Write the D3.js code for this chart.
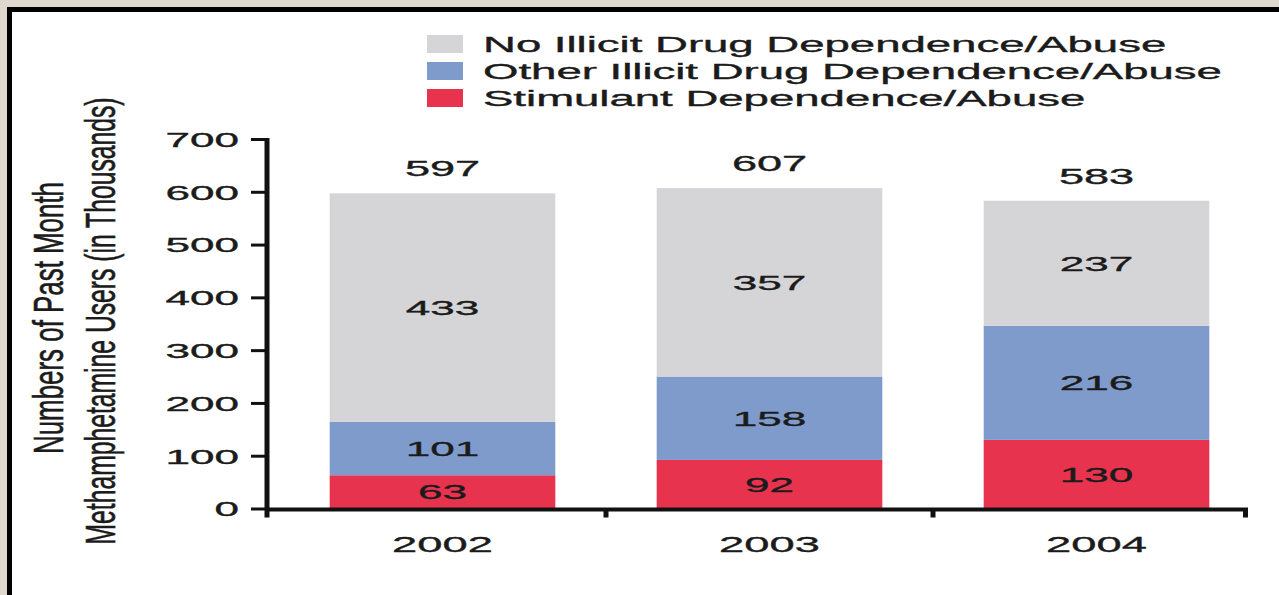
<!DOCTYPE html>
<html>
<head>
<meta charset="utf-8">
<script src="https://cdn.jsdelivr.net/npm/d3@7"></script>
<style>
  html, body { margin: 0; padding: 0; background: #e0d8ce; }
  svg { display: block; }
  text { font-family: "Liberation Sans", Arial, Helvetica, sans-serif; fill: #1b1b1b; stroke: #1b1b1b; stroke-width: 0.35px; }
</style>
</head>
<body>
<svg id="chart" width="1279" height="595"></svg>
<script>
// ---- data ----
const years = ["2002", "2003", "2004"];
const stimulant = [63, 92, 130];
const otherIllicit = [101, 158, 216];
const noIllicit = [433, 357, 237];
const totals = [597, 607, 583];
const seriesNames = [
  "No Illicit Drug Dependence/Abuse",
  "Other Illicit Drug Dependence/Abuse",
  "Stimulant Dependence/Abuse"
];
const yTicks = [0, 100, 200, 300, 400, 500, 600, 700];
const yTitleLines = ["Numbers of Past Month", "Methamphetamine Users (in Thousands)"];

// ---- layout ----
const W = 1279, H = 595;
const svg = d3.select("#chart");

// frame
svg.append("rect").attr("x", 0).attr("y", 0).attr("width", W).attr("height", H).attr("fill", "#e0d8ce");
svg.append("rect").attr("x", 7).attr("y", 7).attr("width", W).attr("height", H).attr("fill", "#000");
svg.append("rect").attr("x", 12).attr("y", 12).attr("width", W).attr("height", H).attr("fill", "#fff");

const rows = years.map((yr, i) => ({
  year: yr, stim: stimulant[i], other: otherIllicit[i], none: noIllicit[i], total: totals[i]
}));
const keys = ["stim", "other", "none"];
const colors = { stim: "#e8334f", other: "#7f9bcb", none: "#d5d5d8" };
const legendKeys = ["none", "other", "stim"];

const x = d3.scaleBand().domain(years).range([279, 1260]).paddingInner(0.31).paddingOuter(0.155);
const y = d3.scaleLinear().domain([0, 700]).range([508.5, 139]);

const stack = d3.stack().keys(keys)(rows);

// bars
const g = svg.append("g");
g.selectAll("g.layer").data(stack).join("g")
  .attr("class", "layer")
  .attr("fill", d => colors[d.key])
  .selectAll("rect").data(d => d.map(v => ({ v, key: d.key }))).join("rect")
  .attr("x", d => x(d.v.data.year))
  .attr("width", x.bandwidth())
  .attr("y", d => y(d.v[1]))
  .attr("height", d => y(d.v[0]) - y(d.v[1]));

// segment labels
g.selectAll("g.seglab").data(stack).join("g")
  .attr("class", "seglab")
  .selectAll("text").data(d => d.map(v => ({ v, key: d.key }))).join("text")
  .attr("transform", d => `translate(${x(d.v.data.year) + x.bandwidth() / 2},${(y(d.v[0]) + y(d.v[1])) / 2 + 7.5}) scale(2.1,1)`)
  .attr("text-anchor", "middle")
  .attr("font-size", 21)
  .text(d => d.v[1] - d.v[0]);

// totals
g.selectAll("text.total").data(rows).join("text")
  .attr("class", "total")
  .attr("transform", d => `translate(${x(d.year) + x.bandwidth() / 2},${y(d.total) - 17}) scale(2.05,1)`)
  .attr("text-anchor", "middle")
  .attr("font-size", 22)
  .text(d => d.total);

// y axis
const axisX = 267;
const yAxis = svg.append("g").attr("transform", `translate(${axisX},0)`)
  .call(d3.axisLeft(y).tickValues(yTicks).tickSize(16).tickSizeOuter(0));
yAxis.select(".domain").remove();
yAxis.selectAll(".tick line").attr("stroke", "#111").attr("stroke-width", 3);
yAxis.selectAll(".tick text")
  .attr("x", null).attr("dy", "0.36em")
  .attr("transform", "translate(-28,0) scale(2.15,1)")
  .attr("font-size", 20.5)
  .attr("font-family", null)
  .attr("fill", "#1b1b1b");
svg.append("line")
  .attr("x1", axisX).attr("x2", axisX)
  .attr("y1", y(700) - 1).attr("y2", y(0) + 9)
  .attr("stroke", "#111").attr("stroke-width", 5);

// x axis
const xAxisEnd = 1248;
svg.append("line")
  .attr("x1", axisX).attr("x2", xAxisEnd)
  .attr("y1", y(0) + 1).attr("y2", y(0) + 1)
  .attr("stroke", "#111").attr("stroke-width", 4);
const boundaries = years.slice(0, -1).map(yr => x(yr) + x.bandwidth() + x.step() * x.paddingInner() / 2);
svg.selectAll("line.xtick").data(boundaries.concat([xAxisEnd - 2.5])).join("line")
  .attr("class", "xtick")
  .attr("x1", d => d).attr("x2", d => d)
  .attr("y1", y(0) + 1).attr("y2", y(0) + 9)
  .attr("stroke", "#111").attr("stroke-width", 5);

// x labels
svg.selectAll("text.xlab").data(years).join("text")
  .attr("class", "xlab")
  .attr("transform", d => `translate(${x(d) + x.bandwidth() / 2},552) scale(1.97,1)`)
  .attr("text-anchor", "middle")
  .attr("font-size", 23)
  .text(d => d);

// y title
const titleX = [63, 115];
const titleCY = [318, 321];
const titleLen = [272, 447];
svg.selectAll("text.ytitle").data(yTitleLines).join("text")
  .attr("class", "ytitle")
  .attr("transform", (d, i) => `translate(${titleX[i]},${titleCY[i]}) scale(1.75,1) rotate(-90)`)
  .attr("text-anchor", "middle")
  .attr("font-size", 24)
  .attr("textLength", (d, i) => titleLen[i])
  .attr("lengthAdjust", "spacingAndGlyphs")
  .text(d => d);

// legend
const legend = svg.append("g");
const lg = legend.selectAll("g").data(legendKeys).join("g")
  .attr("transform", (d, i) => `translate(427,${35 + i * 27})`);
lg.append("rect").attr("width", 36).attr("height", 18).attr("fill", d => colors[d]);
lg.append("text")
  .attr("transform", "translate(56,17) scale(2.07,1)")
  .attr("font-size", 22)
  .text((d, i) => seriesNames[i]);
</script>
</body>
</html>
